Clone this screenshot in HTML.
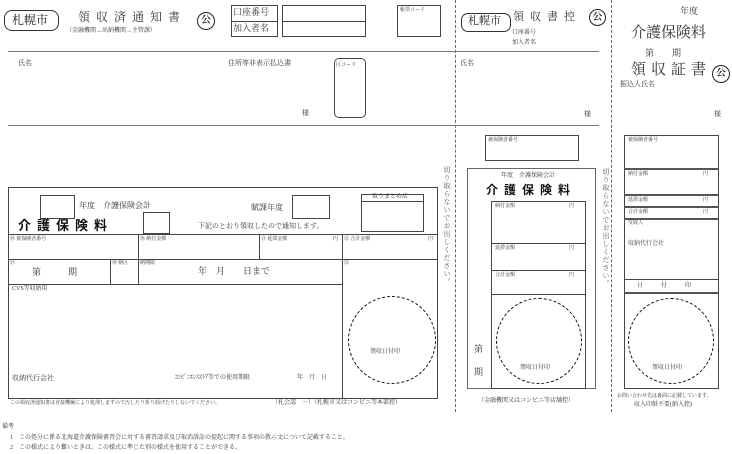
<!DOCTYPE html>
<html><head><meta charset="utf-8">
<style>
*{margin:0;padding:0;box-sizing:border-box}
body{width:732px;height:454px;background:#fff;position:relative;overflow:hidden;font-family:"Liberation Serif","Noto Serif CJK SC","Noto Sans CJK JP",serif;color:#333}
.a{position:absolute;white-space:nowrap;line-height:1}
.b{position:absolute;border:1px solid #444}
.hl{position:absolute;height:0;border-top:1px solid #444}
.vl{position:absolute;width:0;border-left:1px solid #444}
.s5{font-size:5px}.s6{font-size:6px}.s7{font-size:7px}.s8{font-size:8px}.s9{font-size:9px}
.circ{position:absolute;border:1px dashed #111;border-radius:50%}
.ko{position:absolute;border:1.3px solid #222;border-radius:50%;font-size:10px;text-align:center;font-weight:bold}
.dv{position:absolute;width:0;border-left:1px dashed #666}
.vt{position:absolute;writing-mode:vertical-rl;font-size:7px;color:#555;letter-spacing:1px}
.bold{font-family:"Noto Sans CJK JP",sans-serif;font-weight:bold;color:#111}
</style></head><body>

<!-- LEFT SECTION -->
<div class="b" style="left:4px;top:10px;width:55px;height:21px;border-radius:8px;border-color:#333"></div>
<div class="a" style="left:12px;top:14px;font-size:12px;color:#222">札幌市</div>
<div class="a" style="left:78px;top:11px;font-size:12px;letter-spacing:6px">領収済通知書</div>
<div class="a s6" style="left:66px;top:28px">（金融機関→出納機関→主管課）</div>
<div class="ko" style="left:197px;top:12px;width:18px;height:18px;line-height:16px">公</div>
<div class="b" style="left:231px;top:5px;width:47px;height:32px"></div>
<div class="hl" style="left:231px;top:21px;width:47px"></div>
<div class="a s9" style="left:233px;top:8px">口座番号</div>
<div class="a s9" style="left:233px;top:24px">加入者名</div>
<div class="b" style="left:282px;top:5px;width:84px;height:32px"></div>
<div class="hl" style="left:282px;top:21px;width:84px"></div>
<div class="b" style="left:397px;top:5px;width:44px;height:32px"></div>
<div class="a s5" style="left:400px;top:8px">帳票コード</div>
<div class="hl" style="left:8px;top:51px;width:447px;border-top:1.5px solid #777"></div>
<div class="a s7" style="left:18px;top:60px">氏名</div>
<div class="a s7" style="left:228px;top:60px">住所等非表示払込書</div>
<div class="b" style="left:334px;top:58px;width:32px;height:60px;border-radius:5px"></div>
<div class="a s5" style="left:336px;top:63px">区コード</div>
<div class="a s7" style="left:302px;top:110px">様</div>
<div class="hl" style="left:8px;top:125px;width:447px;border-top:1.5px solid #777"></div>

<!-- main box -->
<div class="b" style="left:8px;top:187px;width:430px;height:212px"></div>
<div class="b" style="left:40px;top:195px;width:35px;height:24px"></div>
<div class="a s8" style="left:79px;top:202px">年度　介護保険会計</div>
<div class="a bold" style="left:18px;top:218px;font-size:13px;letter-spacing:6px">介護保険料</div>
<div class="b" style="left:143px;top:212px;width:27px;height:22px"></div>
<div class="a s8" style="left:251px;top:204px">賦課年度</div>
<div class="b" style="left:292px;top:195px;width:38px;height:24px"></div>
<div class="a s7" style="left:198px;top:223px">下記のとおり領収したので通知します。</div>
<div class="b" style="left:361px;top:194px;width:63px;height:38px"></div>
<div class="hl" style="left:361px;top:201px;width:63px"></div>
<div class="a s6" style="left:372px;top:194px">取りまとめ店</div>

<div class="hl" style="left:8px;top:234px;width:430px"></div>
<div class="hl" style="left:8px;top:259px;width:334px"></div>
<div class="hl" style="left:8px;top:284px;width:334px"></div>
<div class="vl" style="left:138px;top:234px;height:50px"></div>
<div class="vl" style="left:259px;top:234px;height:25px"></div>
<div class="vl" style="left:342px;top:234px;height:165px"></div>
<div class="vl" style="left:110px;top:259px;height:25px"></div>
<div class="hl" style="left:342px;top:259px;width:96px"></div>
<div class="a s5" style="left:10px;top:237px">⑱ 被保険者番号</div>
<div class="a s5" style="left:140px;top:237px">⑳ 納付金額</div>
<div class="a s5" style="left:261px;top:237px">㉑ 延滞金額</div>
<div class="a s5" style="left:333px;top:237px">円</div>
<div class="a s5" style="left:344px;top:237px">㉒ 合計金額</div>
<div class="a s5" style="left:428px;top:237px">円</div>
<div class="a s5" style="left:10px;top:261px">⑲</div>
<div class="a s9" style="left:32px;top:268px">第　　　期</div>
<div class="a s5" style="left:112px;top:261px">⑳ 納区</div>
<div class="a s5" style="left:140px;top:261px">納期限</div>
<div class="a s9" style="left:198px;top:267px">年　月　　日まで</div>
<div class="a s5" style="left:344px;top:261px">㉓</div>
<div class="a s6" style="left:12px;top:286px">CVS等収納用</div>
<div class="a s7" style="left:12px;top:375px">収納代行会社</div>
<div class="a s6" style="left:175px;top:375px">ｺﾝﾋﾞﾆｴﾝｽｽﾄｱ等での使用期限</div>
<div class="a s6" style="left:297px;top:375px">年　月　日</div>
<div class="circ" style="left:348px;top:296px;width:88px;height:88px"></div>
<div class="a s6" style="left:370px;top:349px">領収日付印</div>

<div class="a s5" style="left:10px;top:401px">この領収済通知書は直接機械により処理しますので汚したり折り曲げたりしないでください。</div>
<div class="a s6" style="left:272px;top:400px">（札会認　－）（札幌市又はコンビニ等本部控）</div>
<div class="a s6" style="left:2px;top:424px">備考</div>
<div class="a s6" style="left:10px;top:435px">1　この処分に係る北海道介護保険審査会に対する審査請求及び取消訴訟の提起に関する事項の教示文について記載すること。</div>
<div class="a s6" style="left:10px;top:445px">2　この様式により難いときは、この様式に準じた別の様式を使用することができる。</div>

<!-- separators -->
<div class="dv" style="left:455px;top:0;height:412px"></div>
<div class="dv" style="left:611px;top:0;height:412px"></div>
<div class="vt" style="left:442px;top:166px">切り取らないでお出しください。</div>
<div class="vt" style="left:601px;top:168px">切り取らないでお出しください。</div>

<!-- MIDDLE -->
<div class="b" style="left:461px;top:13px;width:50px;height:19px;border-radius:7px;border-color:#333"></div>
<div class="a" style="left:468px;top:16px;font-size:11px;color:#222">札幌市</div>
<div class="a" style="left:513px;top:12px;font-size:11px;letter-spacing:6px">領収書控</div>
<div class="ko" style="left:589px;top:9px;width:17px;height:17px;line-height:15px">公</div>
<div class="a s6" style="left:512px;top:30px">口座番号</div>
<div class="a s6" style="left:512px;top:40px">加入者名</div>
<div class="hl" style="left:455px;top:51px;width:144px;border-top:1.5px solid #777"></div>
<div class="a s7" style="left:460px;top:60px">氏名</div>
<div class="a s7" style="left:584px;top:111px">様</div>
<div class="hl" style="left:455px;top:125px;width:144px;border-top:1.5px solid #777"></div>
<div class="b" style="left:485px;top:135px;width:94px;height:26px"></div>
<div class="a s5" style="left:488px;top:138px">被保険者番号</div>
<div class="b" style="left:467px;top:168px;width:129px;height:221px;border-color:#666"></div>
<div class="a s6" style="left:501px;top:173px">年度　介護保険会計</div>
<div class="a bold" style="left:486px;top:184px;font-size:12px;letter-spacing:6px">介護保険料</div>
<div class="b" style="left:491px;top:201px;width:95px;height:188px"></div>
<div class="hl" style="left:491px;top:243px;width:95px"></div>
<div class="hl" style="left:491px;top:270px;width:95px"></div>
<div class="hl" style="left:491px;top:294px;width:95px"></div>
<div class="a s5" style="left:495px;top:204px">納付金額</div><div class="a s5" style="left:569px;top:204px">円</div>
<div class="a s5" style="left:495px;top:246px">延滞金額</div><div class="a s5" style="left:569px;top:246px">円</div>
<div class="a s5" style="left:495px;top:273px">合計金額</div><div class="a s5" style="left:569px;top:273px">円</div>
<div class="circ" style="left:496px;top:298px;width:86px;height:86px"></div>
<div class="a s6" style="left:520px;top:365px">領収日付印</div>
<div class="a s9" style="left:474px;top:345px">第</div>
<div class="a s9" style="left:474px;top:368px">期</div>
<div class="a s6" style="left:478px;top:398px">（金融機関又はコンビニ等店舗控）</div>

<!-- RIGHT -->
<div class="a s9" style="left:680px;top:7px">年度</div>
<div class="a" style="left:631px;top:26px;font-size:15px">介護保険料</div>
<div class="a s9" style="left:645px;top:49px">第　　期</div>
<div class="a" style="left:631px;top:63px;font-size:15px;letter-spacing:5px">領収証書</div>
<div class="ko" style="left:712px;top:65px;width:18px;height:18px;line-height:16px">公</div>
<div class="a s7" style="left:620px;top:81px">振込人氏名</div>
<div class="a s7" style="left:714px;top:111px">様</div>
<div class="b" style="left:624px;top:135px;width:95px;height:254px"></div>
<div class="hl" style="left:624px;top:168px;width:95px;border-top:2px solid #555"></div>
<div class="hl" style="left:624px;top:194px;width:95px;border-top:2px solid #555"></div>
<div class="hl" style="left:624px;top:206px;width:95px;border-top:2px solid #555"></div>
<div class="hl" style="left:624px;top:218px;width:95px;border-top:2px solid #555"></div>
<div class="hl" style="left:624px;top:279px;width:95px"></div>
<div class="hl" style="left:624px;top:292px;width:95px;border-top:2px solid #555"></div>
<div class="a s5" style="left:628px;top:138px">被保険者番号</div>
<div class="a s5" style="left:628px;top:172px">納付金額</div><div class="a s5" style="left:703px;top:172px">円</div>
<div class="a s5" style="left:628px;top:198px">延滞金額</div><div class="a s5" style="left:703px;top:198px">円</div>
<div class="a s5" style="left:628px;top:210px">合計金額</div><div class="a s5" style="left:703px;top:210px">円</div>
<div class="a s5" style="left:628px;top:221px">受取人</div>
<div class="a s6" style="left:628px;top:241px">収納代行会社</div>
<div class="a s6" style="left:637px;top:283px">日　　　付　　　印</div>
<div class="circ" style="left:628px;top:298px;width:86px;height:86px"></div>
<div class="a s6" style="left:652px;top:365px">領収日付印</div>
<div class="a" style="left:617px;top:394px;font-size:5px">お問い合わせ先は裏面に記載しています。</div>
<div class="a s6" style="left:634px;top:402px">収入印紙不要(納入控)</div>
</body></html>
